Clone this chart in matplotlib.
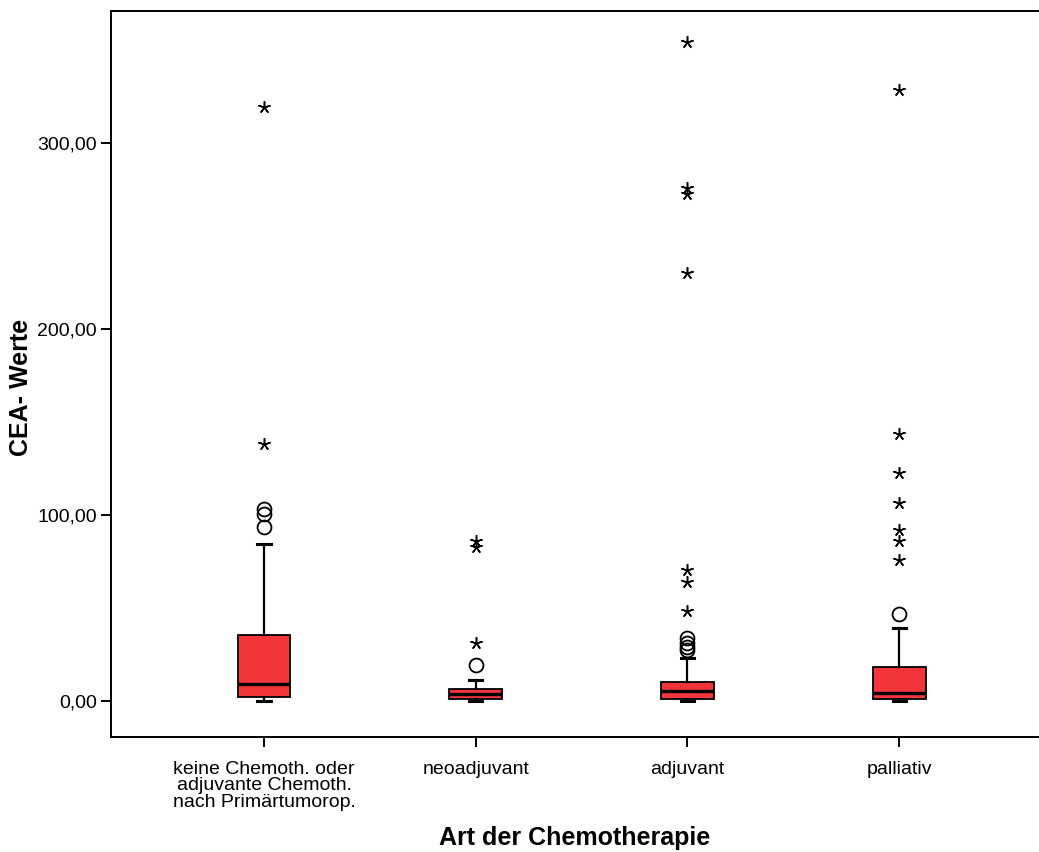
import matplotlib.pyplot as plt
import numpy as np

plt.rcParams['font.family'] = ['Liberation Sans', 'DejaVu Sans']

# =====================================================
# DATA
# =====================================================

categories = ['keine Chemoth. oder\nadjuvante Chemoth.\nnach Primärtumorop.',
              'neoadjuvant', 'adjuvant', 'palliativ']

q1 = [2.1, 1.1, 1.1, 1.1]
median = [9.1, 3.8, 5.4, 4.3]
q3 = [35.4, 6.4, 10.2, 18.2]
whisker_low = [0.0, 0.0, 0.0, 0.0]
whisker_high = [84.2, 11.3, 23.0, 39.1]

# mild outliers (circles)
outliers = [
    [103.0, 100.3, 93.3],
    [19.3],
    [33.8, 31.0, 29.0, 27.3],
    [46.6],
]

# extreme values (stars)
extremes = [
    [138.3, 319.6],
    [31.0, 83.0, 85.8],
    [48.3, 63.8, 70.2, 230.0, 272.4, 276.0, 354.4],
    [76.0, 85.8, 91.7, 106.7, 122.8, 143.7, 328.7],
]

yticks = [0, 100, 200, 300]
ytick_labels = ['0,00', '100,00', '200,00', '300,00']

# =====================================================
# PLOT
# =====================================================

fig = plt.figure(figsize=(10.39, 8.52), dpi=100)
ax = fig.add_axes([0.1068, 0.135, 0.8932, 0.852])

positions = np.arange(1, len(categories) + 1)

stats = []
for i in range(len(categories)):
    stats.append({
        'med': median[i], 'q1': q1[i], 'q3': q3[i],
        'whislo': whisker_low[i], 'whishi': whisker_high[i],
        'fliers': [],
    })

ax.bxp(
    stats, positions=positions, widths=0.25, capwidths=0.062,
    showfliers=False, patch_artist=True,
    boxprops=dict(facecolor='#F2353B', edgecolor='black', linewidth=1.3),
    medianprops=dict(color='black', linewidth=2.4),
    whiskerprops=dict(color='black', linewidth=1.6),
    capprops=dict(color='black', linewidth=2.2),
)

for i, pos in enumerate(positions):
    ax.plot([pos] * len(outliers[i]), outliers[i], linestyle='none',
            marker='o', markersize=10, markerfacecolor='none',
            markeredgecolor='black', markeredgewidth=1.3)
    ax.plot([pos] * len(extremes[i]), extremes[i], linestyle='none',
            marker=(5, 2, 0), markersize=9, color='black',
            markeredgewidth=1.1)

ax.set_xlim(0.277, 4.661)
ax.set_ylim(-19.4, 371)

ax.set_xticks(positions)
ax.set_xticklabels(categories, fontsize=14, linespacing=0.96)
ax.set_yticks(yticks)
ax.set_yticklabels(ytick_labels, fontsize=14)
ax.tick_params(axis='both', direction='out', length=7, width=1.4, color='black')
ax.tick_params(axis='x', pad=10)
ax.tick_params(axis='y', pad=3)

ax.spines['right'].set_visible(False)
for s in ['left', 'top', 'bottom']:
    ax.spines[s].set_linewidth(1.4)

ax.set_xlabel('Art der Chemotherapie', fontsize=18, fontweight='bold', labelpad=11)
ax.set_ylabel('CEA- Werte', fontsize=18, fontweight='bold')
ax.yaxis.set_label_coords(-0.084, 0.482)

plt.savefig('out.png', dpi=100)
plt.close()
